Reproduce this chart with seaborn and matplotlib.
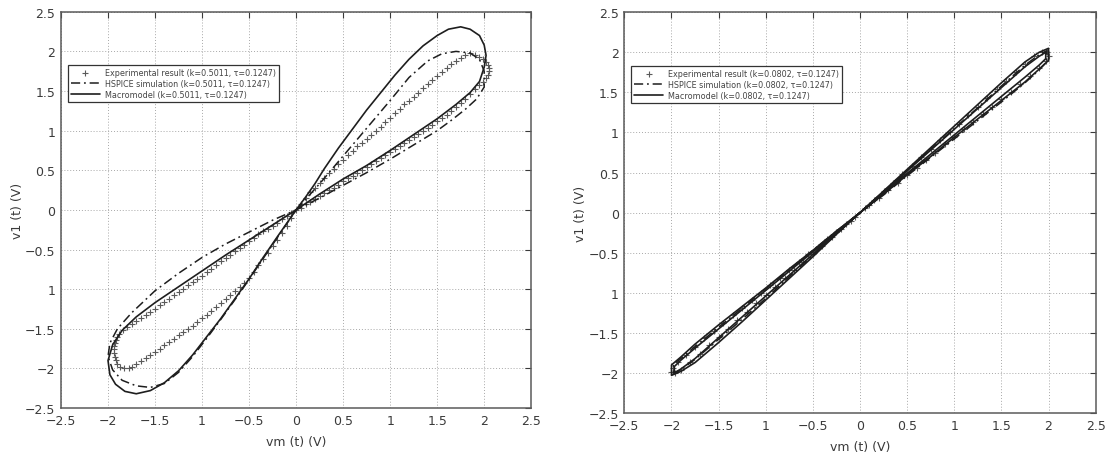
import matplotlib
matplotlib.use("Agg")
import matplotlib.pyplot as plt
import seaborn as sns
import pandas as pd

# ---------------- tick labels ----------------
tick_values = [-2.5, -2, -1.5, -1, -0.5, 0, 0.5, 1, 1.5, 2, 2.5]
tick_labels = ["\u22122.5", "\u22122", "\u22121.5", "1", "\u22120.5", "0",
               "0.5", "1", "1.5", "2", "2.5"]

# ---------------- left panel: k = 0.5011 ----------------
# Macromodel loop (steep branch up, shallow branch back, then third quadrant)
macro_a_x = [0, 0.1, 0.2, 0.3, 0.45, 0.6, 0.75, 0.9, 1.05, 1.2, 1.35, 1.5, 1.62,
             1.75, 1.85, 1.95, 2.0, 2.02, 2.0, 1.95, 1.85, 1.7, 1.5, 1.25, 1.0,
             0.75, 0.5, 0.25, 0,
             -0.25, -0.5, -0.75, -1.0, -1.25, -1.5, -1.7, -1.85, -1.95, -2.0,
             -1.98, -1.92, -1.82, -1.7, -1.55, -1.4, -1.25, -1.1, -0.95, -0.8,
             -0.65, -0.5, -0.35, -0.2, -0.1, 0]
macro_a_y = [0, 0.16, 0.33, 0.52, 0.78, 1.02, 1.26, 1.48, 1.7, 1.9, 2.07, 2.2, 2.28,
             2.31, 2.28, 2.2, 2.08, 1.95, 1.8, 1.62, 1.48, 1.33, 1.15, 0.95, 0.75,
             0.56, 0.39, 0.2, 0,
             -0.19, -0.38, -0.57, -0.77, -0.97, -1.17, -1.35, -1.52, -1.7, -1.9,
             -2.08, -2.2, -2.29, -2.32, -2.28, -2.18, -2.03, -1.83, -1.6, -1.37,
             -1.12, -0.87, -0.6, -0.34, -0.17, 0]

# HSPICE simulation loop
hspice_a_x = [0, 0.25, 0.5, 0.75, 1.0, 1.2, 1.4, 1.55, 1.7, 1.85, 1.95, 2.0, 2.0,
              1.92, 1.8, 1.65, 1.5, 1.25, 1.0, 0.75, 0.5, 0.25, 0,
              -0.25, -0.5, -0.75, -1.0, -1.25, -1.5, -1.75, -1.9, -1.98, -2.0,
              -1.95, -1.85, -1.7, -1.55, -1.4, -1.25, -1.1, -0.95, -0.8, -0.6,
              -0.4, -0.2, 0]
hspice_a_y = [0, 0.33, 0.68, 1.03, 1.38, 1.67, 1.88, 1.97, 2.0, 1.98, 1.9, 1.75, 1.55,
              1.4, 1.27, 1.13, 1.0, 0.82, 0.64, 0.47, 0.31, 0.15, 0,
              -0.13, -0.28, -0.43, -0.6, -0.8, -1.02, -1.3, -1.5, -1.68, -1.85,
              -2.02, -2.15, -2.22, -2.24, -2.19, -2.05, -1.85, -1.62, -1.38, -1.05,
              -0.7, -0.35, 0]

# Experimental result samples, as (vm, v1) pairs
exp_a_points = [
    # first quadrant, rising branch
    (0.05, 0.08), (0.1, 0.15), (0.15, 0.22), (0.2, 0.28), (0.25, 0.34),
    (0.3, 0.4), (0.35, 0.46), (0.4, 0.52), (0.45, 0.58), (0.5, 0.63),
    (0.55, 0.69), (0.6, 0.74), (0.65, 0.8), (0.7, 0.85), (0.75, 0.9),
    (0.8, 0.95), (0.85, 1.0), (0.9, 1.05), (0.95, 1.11), (1.0, 1.16),
    (1.05, 1.22), (1.1, 1.27), (1.15, 1.33), (1.2, 1.38), (1.25, 1.43),
    (1.3, 1.48), (1.35, 1.54), (1.4, 1.59), (1.45, 1.64), (1.5, 1.69),
    (1.55, 1.74), (1.6, 1.79), (1.65, 1.84), (1.7, 1.88), (1.75, 1.92),
    (1.8, 1.96), (1.85, 1.98), (1.9, 1.96), (1.95, 1.93), (1.99, 1.9),
    (2.02, 1.87), (2.04, 1.83), (2.05, 1.79), (2.05, 1.75), (2.04, 1.7),
    (2.02, 1.66), (1.99, 1.62), (1.95, 1.57),
    # first quadrant, falling branch
    (1.9, 1.52), (1.85, 1.46), (1.8, 1.4), (1.75, 1.35), (1.7, 1.3),
    (1.65, 1.25), (1.6, 1.2), (1.55, 1.16), (1.5, 1.12), (1.45, 1.07),
    (1.4, 1.03), (1.35, 1.0), (1.3, 0.96), (1.25, 0.92), (1.2, 0.88),
    (1.15, 0.84), (1.1, 0.8), (1.05, 0.77), (1.0, 0.73), (0.95, 0.69),
    (0.9, 0.65), (0.85, 0.62), (0.8, 0.58), (0.75, 0.54), (0.7, 0.5),
    (0.65, 0.47), (0.6, 0.43), (0.55, 0.4), (0.5, 0.36), (0.45, 0.32),
    (0.4, 0.28), (0.35, 0.25), (0.3, 0.21), (0.25, 0.18), (0.2, 0.14),
    (0.15, 0.1), (0.1, 0.07), (0.05, 0.03), (0.0, 0.0),
    # third quadrant, falling branch
    (-0.05, -0.04), (-0.1, -0.08), (-0.15, -0.12), (-0.2, -0.16),
    (-0.25, -0.2), (-0.3, -0.24), (-0.35, -0.27), (-0.4, -0.31),
    (-0.45, -0.35), (-0.5, -0.39), (-0.55, -0.44), (-0.6, -0.48),
    (-0.65, -0.52), (-0.7, -0.57), (-0.75, -0.61), (-0.8, -0.65),
    (-0.85, -0.7), (-0.9, -0.74), (-0.95, -0.78), (-1.0, -0.83),
    (-1.05, -0.87), (-1.1, -0.91), (-1.15, -0.95), (-1.2, -1.0),
    (-1.25, -1.04), (-1.3, -1.08), (-1.35, -1.12), (-1.4, -1.16),
    (-1.45, -1.2), (-1.5, -1.25), (-1.55, -1.29), (-1.6, -1.33),
    (-1.65, -1.37), (-1.7, -1.4), (-1.75, -1.44), (-1.8, -1.48),
    (-1.84, -1.52), (-1.88, -1.56), (-1.9, -1.6), (-1.92, -1.64),
    (-1.93, -1.68), (-1.94, -1.72), (-1.94, -1.76), (-1.94, -1.8),
    (-1.93, -1.85), (-1.92, -1.9), (-1.9, -1.95), (-1.87, -1.98),
    (-1.83, -2.0), (-1.78, -2.0), (-1.74, -1.98),
    # third quadrant, rising branch
    (-1.7, -1.95), (-1.65, -1.91), (-1.6, -1.87), (-1.55, -1.83),
    (-1.5, -1.79), (-1.45, -1.75), (-1.4, -1.71), (-1.35, -1.67),
    (-1.3, -1.63), (-1.25, -1.58), (-1.2, -1.54), (-1.15, -1.5),
    (-1.1, -1.46), (-1.05, -1.41), (-1.0, -1.37), (-0.95, -1.32),
    (-0.9, -1.27), (-0.85, -1.22), (-0.8, -1.17), (-0.75, -1.12),
    (-0.7, -1.07), (-0.65, -1.02), (-0.6, -0.97), (-0.55, -0.92),
    (-0.5, -0.86), (-0.45, -0.78), (-0.4, -0.7), (-0.35, -0.62),
    (-0.3, -0.55), (-0.25, -0.46), (-0.2, -0.38), (-0.15, -0.29),
    (-0.1, -0.2), (-0.05, -0.1),
]

# ---------------- right panel: k = 0.0802 ----------------
# Macromodel: two cycles traced one after the other
macro_b_x = [0, 0.25, 0.5, 0.75, 1.0, 1.25, 1.5, 1.75, 1.9, 2.0,
             2.0, 1.9, 1.75, 1.5, 1.25, 1.0, 0.75, 0.5, 0.25, 0,
             -0.25, -0.5, -0.75, -1.0, -1.25, -1.5, -1.75, -1.9, -2.0,
             -2.0, -1.9, -1.75, -1.5, -1.25, -1.0, -0.75, -0.5, -0.25, 0,
             0.25, 0.5, 0.75, 1.0, 1.25, 1.5, 1.75, 1.9, 1.97,
             1.97, 1.9, 1.75, 1.5, 1.25, 1.0, 0.75, 0.5, 0.25, 0,
             -0.25, -0.5, -0.75, -1.0, -1.25, -1.5, -1.75, -1.9, -1.97,
             -1.97, -1.9, -1.75, -1.5, -1.25, -1.0, -0.75, -0.5, -0.25, 0]
macro_b_y = [0, 0.27, 0.54, 0.81, 1.08, 1.35, 1.62, 1.88, 2.0, 2.05,
             1.9, 1.79, 1.63, 1.4, 1.17, 0.94, 0.7, 0.47, 0.23, 0,
             -0.23, -0.47, -0.7, -0.94, -1.17, -1.4, -1.64, -1.8, -1.9,
             -2.03, -1.98, -1.87, -1.62, -1.36, -1.09, -0.82, -0.55, -0.27, 0,
             0.26, 0.52, 0.78, 1.04, 1.3, 1.56, 1.82, 1.95, 2.0,
             1.92, 1.84, 1.69, 1.45, 1.21, 0.97, 0.73, 0.49, 0.24, 0,
             -0.24, -0.49, -0.73, -0.97, -1.21, -1.45, -1.69, -1.84, -1.92,
             -2.0, -1.95, -1.82, -1.56, -1.3, -1.04, -0.78, -0.52, -0.26, 0]

hspice_b_x = [0, 0.25, 0.5, 0.75, 1.0, 1.25, 1.5, 1.75, 1.9, 1.98,
              1.98, 1.9, 1.75, 1.5, 1.25, 1.0, 0.75, 0.5, 0.25, 0,
              -0.25, -0.5, -0.75, -1.0, -1.25, -1.5, -1.75, -1.9, -1.98,
              -1.98, -1.9, -1.75, -1.5, -1.25, -1.0, -0.75, -0.5, -0.25, 0]
hspice_b_y = [0, 0.26, 0.53, 0.79, 1.05, 1.31, 1.58, 1.84, 1.97, 2.02,
              1.88, 1.78, 1.62, 1.38, 1.15, 0.92, 0.69, 0.46, 0.22, 0,
              -0.23, -0.47, -0.71, -0.95, -1.19, -1.43, -1.67, -1.82, -1.89,
              -2.0, -1.96, -1.83, -1.58, -1.33, -1.07, -0.8, -0.53, -0.26, 0]

exp_b_points = [
    (0.05, 0.06), (0.15, 0.16), (0.25, 0.27), (0.35, 0.37), (0.45, 0.48),
    (0.55, 0.58), (0.65, 0.69), (0.75, 0.8), (0.85, 0.9), (0.95, 1.01),
    (1.05, 1.11), (1.15, 1.22), (1.25, 1.32), (1.35, 1.43), (1.45, 1.54),
    (1.55, 1.64), (1.65, 1.75), (1.75, 1.85), (1.85, 1.95), (1.93, 2.01),
    (1.98, 2.0), (2.0, 1.95), (1.97, 1.89), (1.9, 1.81), (1.8, 1.7),
    (1.7, 1.6), (1.6, 1.51), (1.5, 1.42), (1.4, 1.32), (1.3, 1.23),
    (1.2, 1.13), (1.1, 1.04), (1.0, 0.94), (0.9, 0.85), (0.8, 0.75),
    (0.7, 0.66), (0.6, 0.56), (0.5, 0.47), (0.4, 0.37), (0.3, 0.28),
    (0.2, 0.18), (0.1, 0.09),
    (-0.05, -0.05), (-0.15, -0.14), (-0.25, -0.24), (-0.35, -0.33),
    (-0.45, -0.43), (-0.55, -0.52), (-0.65, -0.62), (-0.75, -0.71),
    (-0.85, -0.81), (-0.95, -0.9), (-1.05, -1.0), (-1.15, -1.09),
    (-1.25, -1.19), (-1.35, -1.28), (-1.45, -1.38), (-1.55, -1.48),
    (-1.65, -1.57), (-1.75, -1.67), (-1.85, -1.77), (-1.93, -1.86),
    (-1.98, -1.94), (-2.0, -1.99), (-1.96, -2.0), (-1.9, -1.96),
    (-1.8, -1.86), (-1.7, -1.76), (-1.6, -1.65), (-1.5, -1.55),
    (-1.4, -1.45), (-1.3, -1.34), (-1.2, -1.24), (-1.1, -1.13),
    (-1.0, -1.03), (-0.9, -0.93), (-0.8, -0.82), (-0.7, -0.72),
    (-0.6, -0.62), (-0.5, -0.51), (-0.4, -0.41), (-0.3, -0.31),
    (-0.2, -0.2), (-0.1, -0.1),
]

panels = [
    dict(k="0.5011", mx=macro_a_x, my=macro_a_y, hx=hspice_a_x, hy=hspice_a_y,
         pts=exp_a_points),
    dict(k="0.0802", mx=macro_b_x, my=macro_b_y, hx=hspice_b_x, hy=hspice_b_y,
         pts=exp_b_points),
]

sns.set_theme(style="white")
plt.rcParams["font.family"] = ["DejaVu Sans"]

fig = plt.figure(figsize=(11.09, 4.56), dpi=100)
axes_rects = [[0.055, 0.103, 0.424, 0.869], [0.563, 0.092, 0.425, 0.879]]

ink = "#1e1e1e"
text_col = "#3a3a3a"
for rect, p in zip(axes_rects, panels):
    ax = fig.add_axes(rect)
    exp_df = pd.DataFrame(p["pts"], columns=["x", "y"])
    hs_df = pd.DataFrame({"x": p["hx"], "y": p["hy"]})
    mm_df = pd.DataFrame({"x": p["mx"], "y": p["my"]})

    sns.scatterplot(data=exp_df, x="x", y="y", ax=ax, marker="+", s=24,
                    color="#5a5a5a", linewidth=0.8,
                    label=f"Experimental result (k={p['k']}, \u03c4=0.1247)")
    sns.lineplot(data=hs_df, x="x", y="y", ax=ax, sort=False, estimator=None,
                 color=ink, linewidth=1.1, linestyle=(0, (6, 2.5, 1.2, 2.5)),
                 label=f"HSPICE simulation (k={p['k']}, \u03c4=0.1247)")
    sns.lineplot(data=mm_df, x="x", y="y", ax=ax, sort=False, estimator=None,
                 color=ink, linewidth=1.2,
                 label=f"Macromodel (k={p['k']}, \u03c4=0.1247)")

    ax.set_xlim(-2.5, 2.5)
    ax.set_ylim(-2.5, 2.5)
    ax.set_xticks(tick_values)
    ax.set_xticklabels(tick_labels)
    ax.set_yticks(tick_values)
    ax.set_yticklabels(tick_labels)
    ax.grid(True, linestyle=(0, (1, 2)), color="#a8a8a8", linewidth=0.7)
    ax.tick_params(direction="in", length=4, width=0.8, top=True, right=True,
                   labelsize=9, colors=text_col, pad=4)
    for s in ax.spines.values():
        s.set_color("#5a5a5a")
        s.set_linewidth(1.1)
    ax.set_xlabel("vm (t) (V)", fontsize=9, color=text_col, labelpad=6)
    ax.set_ylabel("v1 (t) (V)", fontsize=9, color=text_col, labelpad=1)

    leg = ax.legend(loc="upper left", bbox_to_anchor=(0.015, 0.865),
                    fontsize=5.8, frameon=True, fancybox=False, framealpha=1,
                    edgecolor="#333333", handlelength=3.6, borderpad=0.35,
                    labelspacing=0.25, handletextpad=0.6, borderaxespad=0)
    leg.get_frame().set_linewidth(0.9)
    for t in leg.get_texts():
        t.set_color("#444444")

fig.savefig("out.png", dpi=100, facecolor="white")
